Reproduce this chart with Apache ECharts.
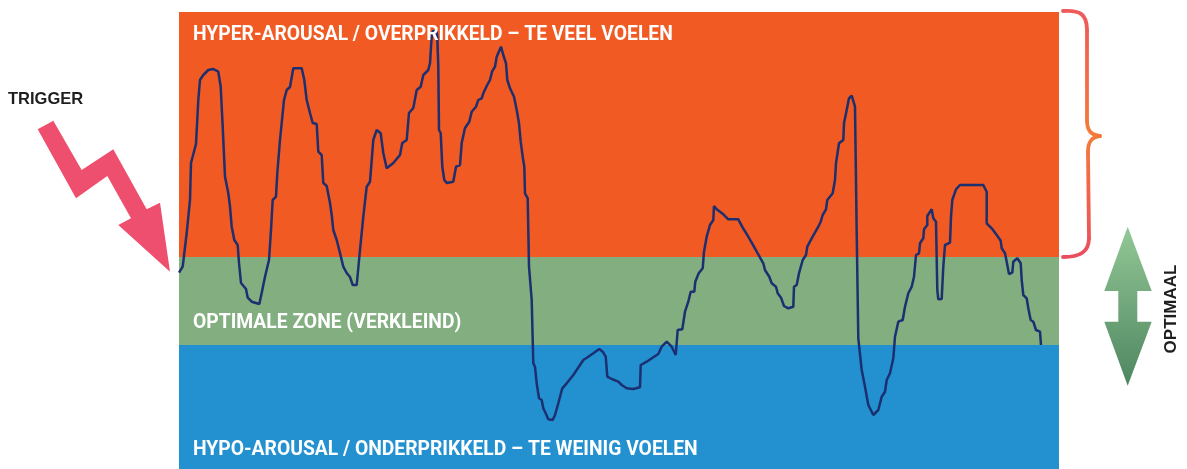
<!DOCTYPE html>
<html>
<head>
<meta charset="utf-8">
<script src="https://cdn.jsdelivr.net/npm/echarts@6/dist/echarts.min.js"></script>
<style>
html,body{margin:0;padding:0;background:#fff;}
#chart{width:1187px;height:469px;}
</style>
</head>
<body>
<div id="chart"></div>
<script>
// Zones of arousal (value range on the arousal scale, 0 = bottom, 457 = top)
const zoneNames = [
  'HYPO-AROUSAL / ONDERPRIKKELD – TE WEINIG VOELEN',
  'OPTIMALE ZONE (VERKLEIND)',
  'HYPER-AROUSAL / OVERPRIKKELD – TE VEEL VOELEN'
];
const zoneLower = [0, 124, 212];
const zoneUpper = [124, 212, 457];

// Arousal trace over time: [time, arousal]
const arousalTrace = [
  [0,196.3],[3.7,202.3],[7.7,236],[11,269],[12,306],[17,325],[19.3,369],[21,389],[24.3,394],[29.3,399],
  [34.3,400],[39.3,397.3],[41.7,382.3],[43.7,342.3],[46,292.3],[49.3,276],[51,262.3],[52.7,242.3],[55.3,229],[58.7,224],
  [60,206],[62,186],[67,180],[68.7,171.3],[72.7,167.3],[80.3,165],[82.7,176],[86,192.3],[90,209],[92,239],
  [93.7,269],[97,272.3],[98.3,296],[101,329],[105,369],[107.7,379],[111,382],[114.3,400.7],[122.7,400.7],[124.3,399],
  [125.3,389],[127.7,369],[131,356],[133.7,346],[137.7,345],[139.3,317.3],[142.7,314],[144.3,286],[147.7,283],[151,266],
  [152.7,254],[154.3,239],[157.7,229],[161,216],[164.3,202.3],[167.7,196],[171,192],[173.7,184],[177.7,184],[181,219],
  [184.3,252.3],[187.7,282.3],[191,287.3],[194.3,329],[197.7,339],[201.7,335.7],[204.3,316],[207.7,300.7],[214.3,306],[221,314],
  [223.3,326],[227.7,329],[230,356],[234.3,361],[237.7,379],[241.7,382.3],[244.3,394],[249.3,399],[251,405.7],[252.5,430],
  [254,438],[257.5,438],[258.3,432],[259.3,402.3],[260,339],[261.7,336],[263.3,302.3],[265.3,289],[267.7,286],[274.3,287.3],
  [277,302.3],[281,304],[282.7,326],[286,341],[290.3,347.3],[292.7,357.3],[297,362.3],[299.3,369],[302.7,370.7],[304.3,375.7],
  [307.7,383],[311,389],[313,397.3],[316,402.3],[317.7,412.3],[322,422.3],[324.3,414],[327,405.7],[328.3,389],[331,380.7],
  [335,372.3],[337.7,359],[340,345.7],[341.7,327.3],[343.7,312.3],[345.3,302.3],[346,275.7],[348.7,270.7],[350,202.3],[352.7,169],
  [354.3,105.7],[356,102.3],[357.7,85.7],[360,70.7],[362.7,69],[364.3,60.7],[366.7,55.7],[369.3,49.7],[373.7,49],[376,54],
  [379.3,65.7],[383.3,80.7],[387.7,85.7],[394.3,94],[401,104],[404.3,109],[409.3,112.3],[414.3,115.7],[420.3,120],[423.7,117.3],
  [426.7,112.3],[428.3,92.3],[432.7,90],[439.3,87.3],[442.7,84],[447.7,80.7],[454.3,80],[461,81.7],[461.7,104],[467.7,107.3],
  [474.3,111.7],[479.3,115],[482.7,122.3],[487.7,127.3],[492.7,122.3],[496.7,114],[498.7,139],[503.3,139.7],[506,157.3],[509.3,167.3],
  [511.7,177.3],[515.3,177.3],[516.3,187.3],[519.7,195.7],[523.7,200.7],[525,217.3],[527.7,232.3],[531,244],[534.3,249],[535,263],
  [537.7,259.7],[544.3,254.7],[549.3,249.7],[559.3,249.7],[563.7,241.3],[568.3,234],[572.7,226.3],[577.7,217.3],[584.3,205.7],[586,199],
  [590.3,192.3],[592.7,185.7],[597,182.3],[598.7,175.7],[602,171.3],[605,163],[609.3,160.7],[614.3,162.3],[615,182.3],[617.7,184],
  [620,195.7],[623.7,209],[627,214],[628.3,222.3],[632.7,230.7],[639.3,242.3],[641.7,247.3],[643.7,254],[647,259.7],[648.3,269],
  [653.7,275.7],[656,289],[657,305.7],[660,325.7],[664.3,329],[665,345.7],[667.7,359],[670,370.7],[672.7,373.3],[674.3,372.3],
  [676,362.3],[677.7,236],[679.3,130.7],[682.7,99],[686,82.3],[689.3,64],[694.3,54],[699.3,59],[702.7,72.3],[706,77.3],
  [707.7,89],[711,95.7],[714.3,110.7],[716,132.3],[719.3,147.3],[723.7,149],[726,162.3],[729.3,175.7],[732.7,182.3],[735,192.3],
  [737,214],[740,215.7],[741,225.7],[744.3,230.7],[745,239.7],[748.3,244],[748.3,253],[752.7,259.7],[754.3,250.7],[757,247.3],
  [758.3,179],[759.3,169.7],[762.7,170],[764.3,202.3],[766,224],[771,226.3],[772,252.3],[773.3,269],[777,279.7],[781,284],
  [804.3,284],[807.7,277.3],[807.7,245.7],[812.7,240.7],[817.7,234],[821.7,228.3],[822.7,220.7],[826,215.7],[827.7,207.3],[830,195],
  [833.3,196.3],[834.3,207.3],[838.3,210.7],[841.7,205.7],[842.7,189],[844.3,174],[847.7,170.7],[849.3,160.7],[851.7,149],[854.3,147.3],
  [857,139],[861,137.3],[862,124]
];

const sideLabels = ['TRIGGER', 'OPTIMAAL'];

const chart = echarts.init(document.getElementById('chart'), null, {renderer: 'canvas'});

const zoneColors = ['#2391d0', '#82ae80', '#f15a22'];
const labelFont = 'Roboto, "Noto Sans", sans-serif';

const markAreaData = zoneNames.map((n, i) => [
  {name: n, yAxis: zoneLower[i], itemStyle: {color: zoneColors[i], opacity: 1}},
  {yAxis: zoneUpper[i]}
]);

// label vertical centres within the canvas for each zone
const zoneLabelY = [450, 323.5, 35.5];

const graphics = [];
zoneNames.forEach((n, i) => {
  graphics.push({
    type: 'text', z: 100, x: 193, y: zoneLabelY[i],
    style: {text: n, fill: '#ffffff', font: 'bold 19.3px ' + labelFont, verticalAlign: 'middle', align: 'left'}
  });
});

// Trigger text
graphics.push({
  type: 'text', z: 100, x: 8, y: 99,
  style: {text: sideLabels[0], fill: '#1e1e1e', font: 'bold 16.5px "Liberation Sans", Arial, sans-serif', verticalAlign: 'middle', align: 'left'}
});
// Trigger zigzag arrow
graphics.push({
  type: 'polygon', z: 100,
  shape: {points: [[37.7,129.3],[76,198.3],[107.3,176],[131,218.3],[118.3,225],[170,271.7],[160,202.7],[146.7,209.3],[113.3,149.3],[81.7,170],[53.3,120.7]]},
  style: {fill: '#ef4f6e'}
});
// Brace (pieces)
const braceGrad = new echarts.graphic.LinearGradient(0, 11, 0, 257, [
  {offset: 0, color: '#ee5a5a'}, {offset: 0.5, color: '#f47b3a'}, {offset: 1, color: '#ea4d5e'}
], true);
const braceStyle = {fill: null, stroke: braceGrad, lineWidth: 3.8, lineCap: 'round'};
graphics.push({type: 'bezierCurve', z: 100, shape: {x1: 1063, y1: 11, cpx1: 1080, cpy1: 10, cpx2: 1087, cpy2: 14, x2: 1087, y2: 30}, style: braceStyle});
graphics.push({type: 'line', z: 100, shape: {x1: 1087, y1: 30, x2: 1087, y2: 120}, style: braceStyle});
graphics.push({type: 'bezierCurve', z: 100, shape: {x1: 1087, y1: 120, cpx1: 1087, cpy1: 132, cpx2: 1092, cpy2: 135, x2: 1100, y2: 136}, style: braceStyle});
graphics.push({type: 'bezierCurve', z: 100, shape: {x1: 1100, y1: 136, cpx1: 1092, cpy1: 137, cpx2: 1088, cpy2: 141, x2: 1088, y2: 152}, style: braceStyle});
graphics.push({type: 'line', z: 100, shape: {x1: 1088, y1: 152, x2: 1089, y2: 238}, style: braceStyle});
graphics.push({type: 'bezierCurve', z: 100, shape: {x1: 1089, y1: 238, cpx1: 1089, cpy1: 252, cpx2: 1080, cpy2: 257, x2: 1063, y2: 257}, style: braceStyle});

// Optimal double arrow
graphics.push({
  type: 'polygon', z: 100,
  shape: {points: [[1127.7,226.7],[1151.7,291],[1137.3,291],[1137.3,321.7],[1151.7,321.7],[1127.7,385.7],[1104.3,321.7],[1118.3,321.7],[1118.3,291],[1104.3,291]]},
  style: {
    fill: new echarts.graphic.LinearGradient(0, 0, 0, 1, [{offset: 0, color: '#93c796'}, {offset: 1, color: '#4e8660'}])
  }
});
// OPTIMAAL text
graphics.push({
  type: 'text', z: 100, x: 1171, y: 309, rotation: Math.PI / 2,
  style: {text: sideLabels[1], fill: '#1e1e1e', font: 'bold 17px "Liberation Sans", Arial, sans-serif', align: 'center', verticalAlign: 'middle'}
});

chart.setOption({
  animation: false,
  backgroundColor: '#ffffff',
  grid: {left: 179, right: 128, top: 12, bottom: 0, containLabel: false},
  xAxis: {type: 'value', min: 0, max: 880, show: false},
  yAxis: {type: 'value', min: 0, max: 457, show: false},
  series: [{
    type: 'line',
    data: arousalTrace,
    showSymbol: false,
    smooth: false,
    lineStyle: {color: '#1c2f70', width: 2.5},
    itemStyle: {color: '#1c2f70'},
    markArea: {silent: true, label: {show: false}, data: markAreaData}
  }],
  graphic: graphics
});
</script>
</body>
</html>
